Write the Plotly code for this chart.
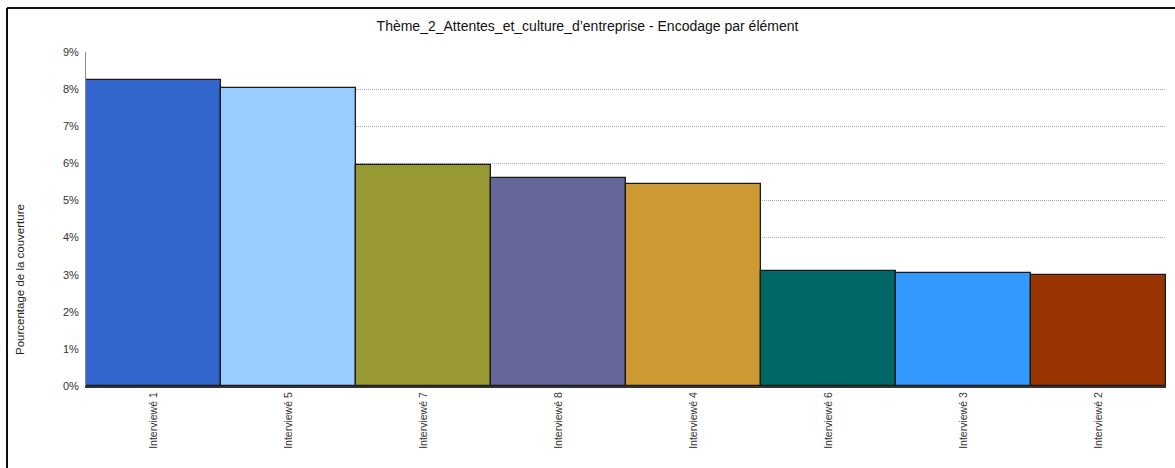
import plotly.graph_objects as go

# Coverage per interviewee for the theme
interviewes = ["Interviewé 1", "Interviewé 5", "Interviewé 7", "Interviewé 8",
               "Interviewé 4", "Interviewé 6", "Interviewé 3", "Interviewé 2"]
couverture = [8.25, 8.03, 5.96, 5.61, 5.44, 3.10, 3.05, 2.99]
couleurs = ["#3366CC", "#99CCFF", "#999933", "#666699",
            "#CC9933", "#006666", "#3399FF", "#993300"]
y_ticks = list(range(0, 10))
y_labels = [f"{v}%" for v in y_ticks]

W, H = 1175, 468
L, R, T, B = 86, 9, 52, 82
pw, ph = W - L - R, H - T - B

fig = go.Figure(go.Bar(
    x=interviewes,
    y=couverture,
    marker=dict(color=couleurs, line=dict(color="#1a1a1a", width=1.3)),
    hoverinfo="x+y",
))

font = "Liberation Sans, Arial, sans-serif"

fig.update_layout(
    width=W, height=H,
    margin=dict(l=L, r=R, t=T, b=B, autoexpand=False),
    paper_bgcolor="white", plot_bgcolor="white",
    bargap=0,
    showlegend=False,
    font=dict(family=font, size=11, color="#333333"),
    title=dict(
        text="Thème_2_Attentes_et_culture_d’entreprise - Encodage par élément",
        x=0.5, xref="container", xanchor="center",
        y=1 - 26 / H, yref="container", yanchor="middle",
        font=dict(family=font, size=14, color="#111111"),
    ),
    xaxis=dict(
        type="category",
        tickangle=-90,
        tickfont=dict(size=10.5, color="#333333"),
        showline=True, linecolor="#333333", linewidth=2,
        ticks="", ticklen=0,
        showgrid=False,
        range=[-0.5, len(interviewes) - 0.5],
        fixedrange=True,
    ),
    yaxis=dict(
        range=[0, 9],
        tickvals=y_ticks, ticktext=y_labels,
        tickfont=dict(size=11, color="#333333"),
        showline=True, linecolor="#888888", linewidth=1,
        showgrid=True, gridcolor="#a8a8a8", gridwidth=1, griddash="1px,1px",
        zeroline=False,
        ticks="", ticklabelstandoff=4,
        fixedrange=True,
    ),
    annotations=[dict(
        text="Pourcentage de la couverture",
        textangle=-90,
        x=(20 - L) / pw, xref="paper",
        y=(H - B - 280) / ph, yref="paper",
        showarrow=False,
        font=dict(family=font, size=11.5, color="#222222"),
        xanchor="center", yanchor="middle",
    )],
    shapes=[
        # outer frame: top and left edges
        dict(type="line", xref="paper", yref="paper",
             x0=(7 - L) / pw, x1=(W - L) / pw + 0.01,
             y0=(H - B - 8) / ph, y1=(H - B - 8) / ph,
             line=dict(color="#111111", width=2)),
        dict(type="line", xref="paper", yref="paper",
             x0=(7 - L) / pw, x1=(7 - L) / pw,
             y0=(H - B - 8) / ph, y1=-(B + 5) / ph,
             line=dict(color="#111111", width=2)),
    ],
)

fig.write_html("out.html")
